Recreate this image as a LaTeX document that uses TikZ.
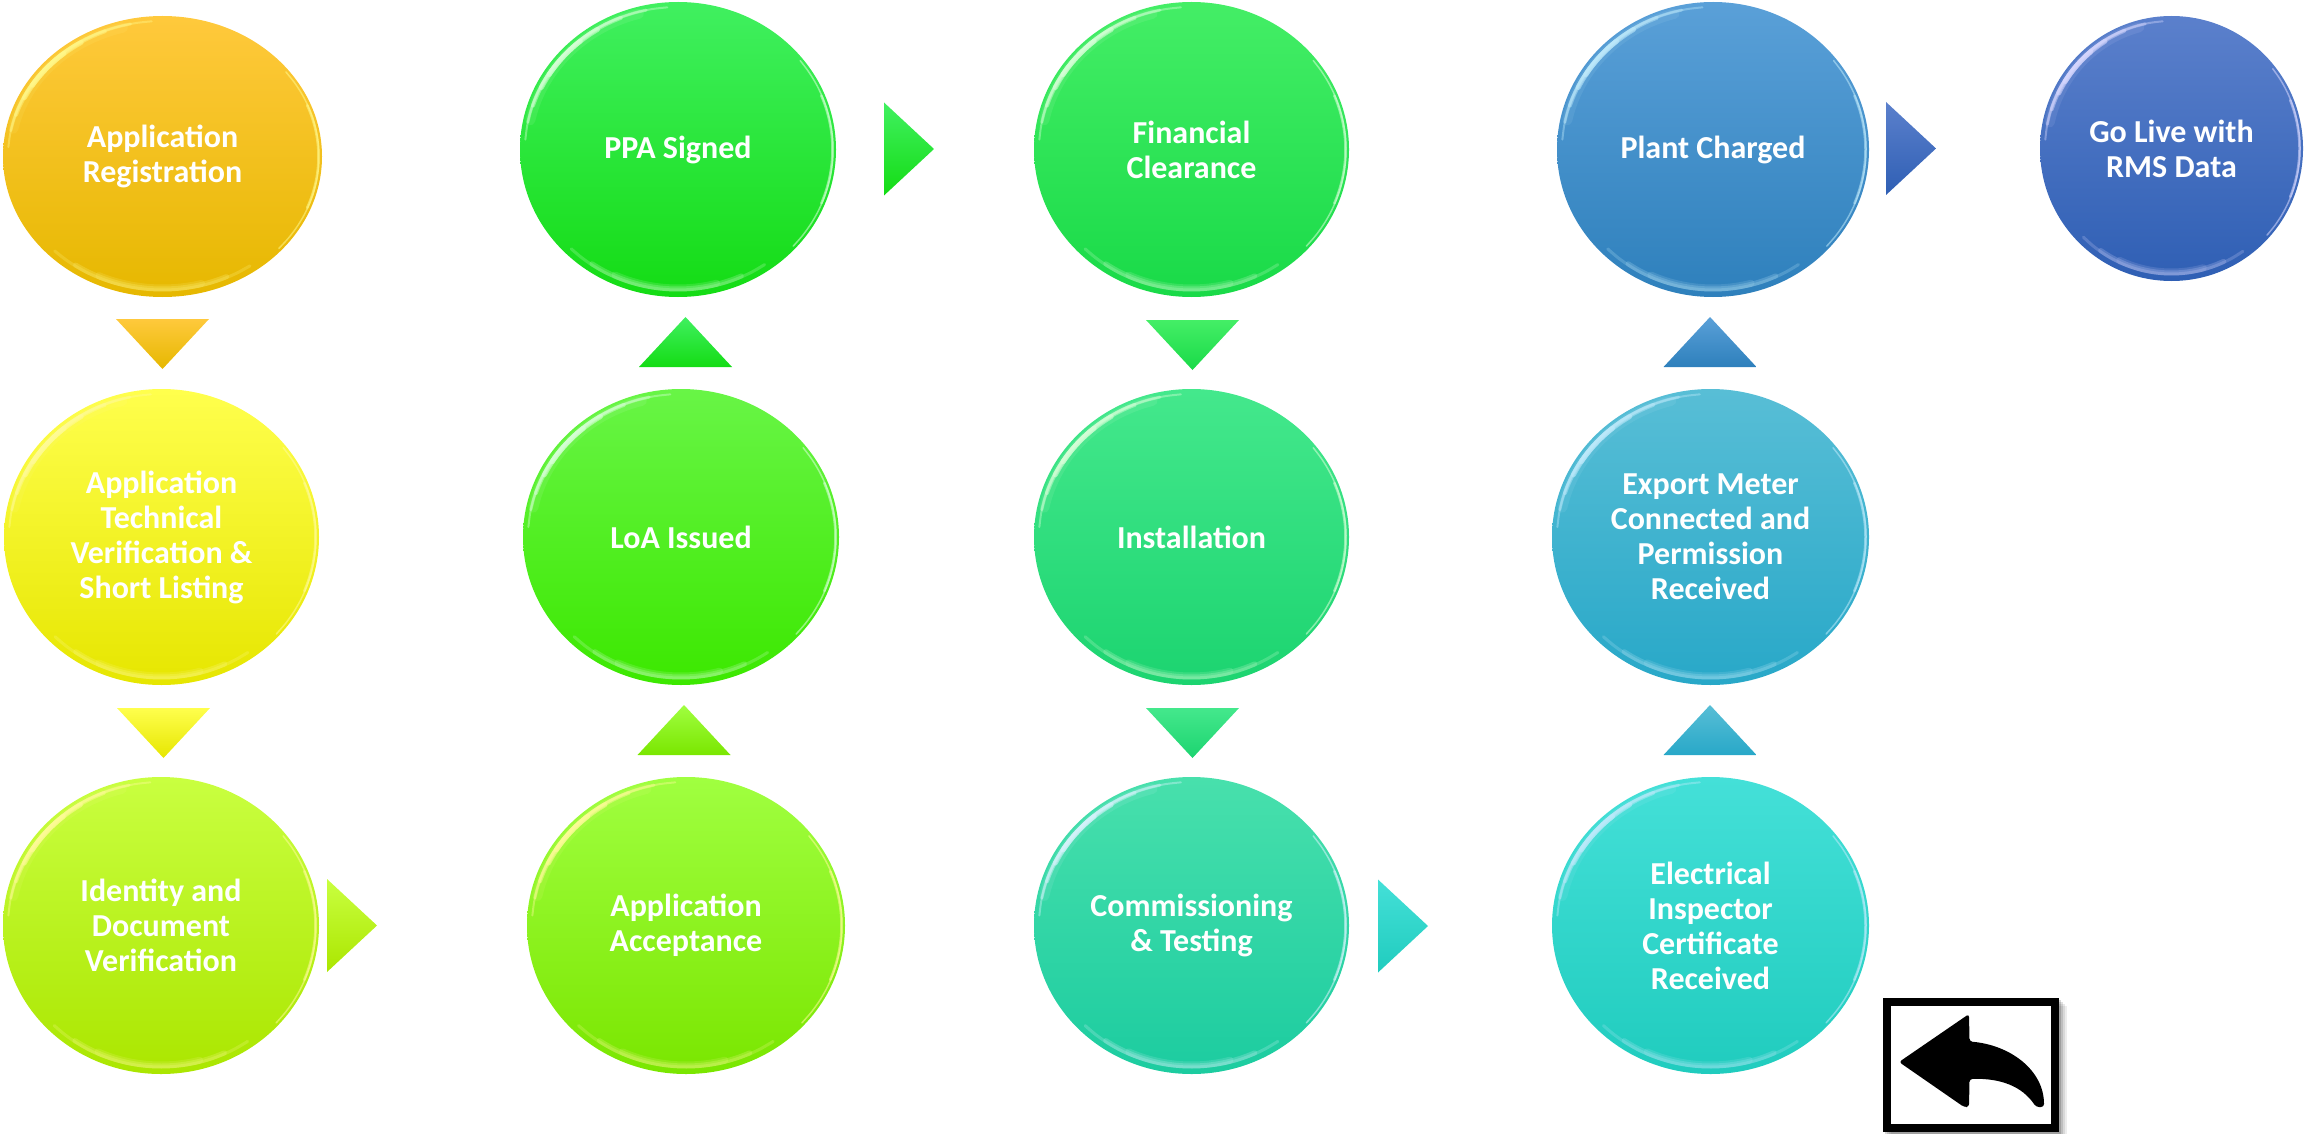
\documentclass[tikz,border=0pt]{standalone}
\usepackage{fontspec}
\setmainfont{Carlito}
\usetikzlibrary{shapes.geometric}
% one stroke along the rim: half-width, half-height, inset, from, to, line width, opacity
\newcommand\rimarc[7]{%
  \draw[\orbtint,line width=#6pt,line cap=round,opacity=#7]
    plot[smooth,domain=#4:#5,samples=16] ({(#1-#3)*cos(\x)},{(#2-#3)*sin(\x)});}
\newcommand\orbglint[4]{% name half-width half-height tint
  \begin{scope}[shift={(#1.center)}]
    \def\orbtint{#4}
    % lower-left highlight
    \rimarc{#2}{#3}{7}{192}{255}{10}{.10}
    \rimarc{#2}{#3}{5}{184}{266}{2}{.40}
    \rimarc{#2}{#3}{5}{191}{258}{3}{.40}
    \rimarc{#2}{#3}{5.5}{198}{248}{4}{.45}
    \rimarc{#2}{#3}{6}{206}{238}{5}{.55}
    \rimarc{#2}{#3}{6}{212}{230}{5}{.60}
    % top band
    \rimarc{#2}{#3}{7}{55}{135}{3}{.22}
    \rimarc{#2}{#3}{8}{65}{125}{5}{.22}
    \rimarc{#2}{#3}{9}{75}{115}{7}{.15}
    % right edge
    \rimarc{#2}{#3}{3}{-38}{42}{1.5}{.55}
    \rimarc{#2}{#3}{3.5}{-22}{22}{2.5}{.55}
  \end{scope}}
\tikzset{
  x=1pt,y=-1pt,
  orb/.style n args={5}{ellipse,inner sep=0pt,outer sep=0pt,
    minimum width=#1 pt,minimum height=#2 pt,
    top color=#3,middle color=#4,bottom color=#5,
    text=white,align=center,
    font=\fontsize{32}{35}\selectfont\bfseries},
  tri/.style n args={3}{isosceles triangle,isosceles triangle stretches,
    inner sep=0pt,outer sep=0pt,anchor=apex,
    top color=#1,middle color=#2,bottom color=#3},
  tridown/.style={shape border rotate=270,minimum width=93pt,minimum height=50pt},
  triup/.style={shape border rotate=90,minimum width=93pt,minimum height=50pt},
  triright/.style={shape border rotate=0,minimum width=93pt,minimum height=50pt},
}
\definecolor{a1}{HTML}{FFC93C}\definecolor{b1}{HTML}{FFC800}\definecolor{c1}{HTML}{E6B800}
\definecolor{a2}{HTML}{FFFF4D}\definecolor{b2}{HTML}{FFFF00}\definecolor{c2}{HTML}{E6E600}
\definecolor{a3}{HTML}{C9FF40}\definecolor{b3}{HTML}{BFFF00}\definecolor{c3}{HTML}{ABE600}
\definecolor{a4}{HTML}{A0FF40}\definecolor{b4}{HTML}{88FF00}\definecolor{c4}{HTML}{7AE600}
\definecolor{a5}{HTML}{68F546}\definecolor{b5}{HTML}{4CF80F}\definecolor{c5}{HTML}{3CE800}
\definecolor{a6}{HTML}{40F060}\definecolor{b6}{HTML}{16F016}\definecolor{c6}{HTML}{14DC14}
\definecolor{a7}{HTML}{44EE66}\definecolor{b7}{HTML}{1CEE50}\definecolor{c7}{HTML}{19DA48}
\definecolor{a8}{HTML}{44E88C}\definecolor{b8}{HTML}{20E67C}\definecolor{c8}{HTML}{1CD470}
\definecolor{a9}{HTML}{48E0AC}\definecolor{b9}{HTML}{26E0A4}\definecolor{c9}{HTML}{1CCCA0}
\definecolor{a10}{HTML}{44E0D8}\definecolor{b10}{HTML}{2CDCD4}\definecolor{c10}{HTML}{20CCBE}
\definecolor{a11}{HTML}{58BED6}\definecolor{b11}{HTML}{30B8D8}\definecolor{c11}{HTML}{28A8C8}
\definecolor{a12}{HTML}{5AA0D8}\definecolor{b12}{HTML}{3A90D0}\definecolor{c12}{HTML}{2E80BC}
\definecolor{a13}{HTML}{5B80CC}\definecolor{b13}{HTML}{4472C4}\definecolor{c13}{HTML}{2F5FB4}
\begin{document}
\begin{tikzpicture}
\useasboundingbox (0,0) rectangle (2304,1134);
% circles
\node[orb={319}{281}{a1}{b1}{c1}] (n1) at (162.5,156.5) {Application\\Registration};
\node[orb={315}{296}{a2}{b2}{c2}] (n2) at (161.5,537) {Application\\Technical\\Verification \&\\Short Listing};
\node[orb={316}{297}{a3}{b3}{c3}] (n3) at (161,925.5) {Identity and\\Document\\Verification};
\node[orb={318}{297}{a4}{b4}{c4}] (n4) at (686,925.5) {Application\\Acceptance};
\node[orb={316}{296}{a5}{b5}{c5}] (n5) at (681,537) {LoA Issued};
\node[orb={316}{295}{a6}{b6}{c6}] (n6) at (678,149.5) {\raisebox{-2pt}{PPA Signed}};
\node[orb={315}{295}{a7}{b7}{c7}] (n7) at (1191.5,149.5) {Financial\\Clearance};
\node[orb={315}{296}{a8}{b8}{c8}] (n8) at (1191.5,537) {Installation};
\node[orb={315}{297}{a9}{b9}{c9}] (n9) at (1191.5,925.5) {Commissioning\\\& Testing};
\node[orb={317}{297}{a10}{b10}{c10}] (n10) at (1710.5,925.5) {Electrical\\Inspector\\Certificate\\Received};
\node[orb={317}{296}{a11}{b11}{c11}] (n11) at (1710.5,537) {Export Meter\\Connected and\\Permission\\Received};
\node[orb={312}{295}{a12}{b12}{c12}] (n12) at (1713,149.5) {\raisebox{-2pt}{Plant Charged}};
\node[orb={263}{265}{a13}{b13}{c13}] (n13) at (2171.5,148.5) {Go Live with\\RMS Data};
% rim glints
\orbglint{n1}{159.5}{140.5}{white!55!yellow}
\orbglint{n2}{157.5}{148}{white!60!yellow}
\orbglint{n3}{158}{148.5}{white!60!yellow}
\orbglint{n4}{159}{148.5}{white!60!yellow}
\orbglint{n5}{158}{148}{white!85!green}
\orbglint{n6}{158}{147.5}{white!85!green}
\orbglint{n7}{157.5}{147.5}{white!85!green}
\orbglint{n8}{157.5}{148}{white!85!green}
\orbglint{n9}{157.5}{148.5}{white!85!cyan}
\orbglint{n10}{158.5}{148.5}{white!75!cyan}
\orbglint{n11}{158.5}{148}{white!75!cyan}
\orbglint{n12}{156}{147.5}{white!75!cyan}
\orbglint{n13}{131.5}{132.5}{white!85!blue}
% triangular connectors
\node[tri={a1}{b1}{c1},tridown] (t1) at (162.5,369) {};
\node[tri={a2}{b2}{c2},tridown] (t2) at (163.5,758) {};
\node[tri={a3}{b3}{c3},triright] (t3) at (377,925.5) {};
\node[tri={a4}{b4}{c4},triup] (t4) at (684,705) {};
\node[tri={a6}{b6!70!b5}{c6},triup] (t5) at (685.5,317) {};
\node[tri={a6}{b6}{c6},triright] (t6) at (934,149) {};
\node[tri={a7}{b7}{c7},tridown] (t7) at (1192.5,370) {};
\node[tri={a8}{b8}{c8},tridown] (t8) at (1192.5,758) {};
\node[tri={a10}{b10}{c10},triright] (t9) at (1428,926) {};
\node[tri={a11}{b11}{c11},triup] (t10) at (1710,705) {};
\node[tri={a12}{b12}{c12},triup] (t11) at (1710,317) {};
\node[tri={a13}{b13}{c13},triright] (t12) at (1936,148.5) {};
% back button
\foreach \s/\o in {8/.07,6/.09,4/.12,2/.16}
  \fill[black,fill opacity=\o] (1883+\s,998+\s) rectangle (2059+\s,1132+\s);
\node[draw=black,fill=white,line width=8pt,inner sep=0pt,outer sep=0pt,minimum width=168pt,minimum height=126pt] (back) at (1971,1065) {};
\fill[black,rounded corners=3pt] (1899,1062) -- (1969,1014) -- (1969.5,1041.5)
  .. controls (2010,1045) and (2044,1070) .. (2044,1107) -- (2036,1107)
  .. controls (2022,1086) and (2000,1078) .. (1969.5,1079) -- (1969,1107) -- (1964,1107) -- cycle;
\end{tikzpicture}
\end{document}
